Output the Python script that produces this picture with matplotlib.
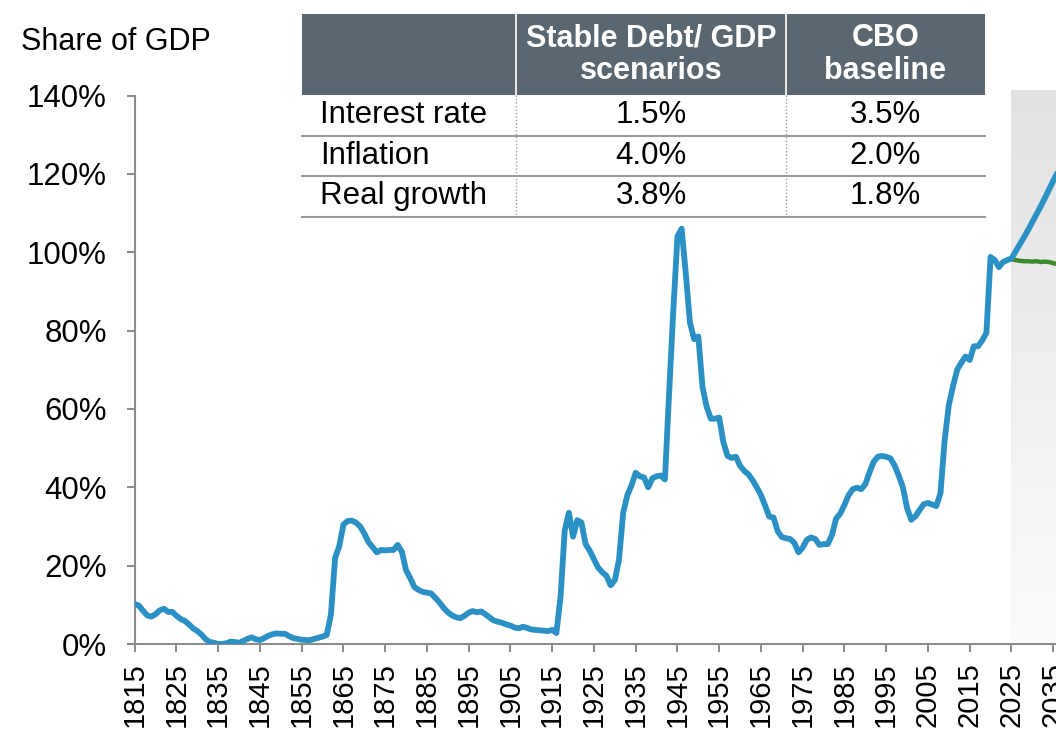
import numpy as np
import matplotlib
matplotlib.use("Agg")
import matplotlib.pyplot as plt
from matplotlib.patches import Rectangle
from matplotlib.lines import Line2D
from matplotlib.colors import LinearSegmentedColormap

plt.rcParams['font.family'] = ['Liberation Sans', 'DejaVu Sans']

# ---------------- data ----------------
hist_start = 1815
hist_debt = [
    10.2, 9.8, 8.5, 7.3, 7.0, 7.6, 8.6, 9.0, 8.2, 8.2,          # 1815-1824
    7.2, 6.4, 5.9, 5.0, 4.0, 3.3, 2.4, 1.2, 0.5, 0.3,           # 1825-1834
    0.0, 0.0, 0.2, 0.6, 0.5, 0.3, 0.8, 1.3, 1.7, 1.2,           # 1835-1844
    1.0, 1.5, 2.1, 2.5, 2.7, 2.6, 2.6, 2.0, 1.5, 1.3,           # 1845-1854
    1.1, 1.0, 1.0, 1.3, 1.6, 1.9, 2.3, 7.5, 22.0, 25.0,         # 1855-1864
    30.5, 31.4, 31.5, 31.0, 30.0, 28.2, 26.0, 24.7, 23.4, 24.0, # 1865-1874
    23.9, 24.0, 24.0, 25.3, 23.5, 18.8, 16.8, 14.5, 13.8, 13.3, # 1875-1884
    13.1, 12.9, 11.8, 10.6, 9.2, 8.1, 7.3, 6.8, 6.6, 7.2,       # 1885-1894
    8.0, 8.4, 8.1, 8.3, 7.6, 6.8, 6.0, 5.7, 5.4, 5.0,           # 1895-1904
    4.7, 4.2, 4.0, 4.4, 4.1, 3.7, 3.6, 3.5, 3.4, 3.3,           # 1905-1914
    3.6, 2.8, 12.0, 29.0, 33.5, 27.4, 31.6, 31.0, 25.5, 23.8,   # 1915-1924
    21.6, 19.5, 18.3, 17.4, 15.0, 16.3, 21.5, 33.5, 38.0, 40.5, # 1925-1934
    43.7, 42.8, 42.5, 40.0, 42.3, 42.8, 43.0, 42.0, 64.0, 85.0, # 1935-1944
    104.0, 106.0, 94.5, 82.0, 77.8, 78.5, 65.6, 60.5, 57.5, 57.5, # 1945-1954
    57.8, 51.5, 48.0, 47.5, 47.8, 45.5, 44.2, 43.3, 41.8, 40.0, # 1955-1964
    38.0, 35.3, 32.5, 32.3, 28.8, 27.3, 27.0, 26.8, 25.8, 23.4, # 1965-1974
    24.6, 26.6, 27.2, 26.8, 25.3, 25.5, 25.5, 27.8, 32.0, 33.3, # 1975-1984
    35.5, 38.0, 39.5, 39.9, 39.5, 40.8, 43.8, 46.5, 47.8, 48.0, # 1985-1994
    47.8, 47.4, 45.6, 43.0, 40.0, 34.7, 31.7, 32.6, 34.2, 35.7, # 1995-2004
    36.0, 35.6, 35.2, 38.5, 52.0, 61.0, 65.8, 70.0, 71.8, 73.4, # 2005-2014
    72.5, 76.0, 76.0, 77.5, 79.4, 98.8, 98.0, 96.2, 97.5, 98.0, # 2015-2024
]
proj_start = 2025
cbo_baseline = [98.4, 100.2, 102.0, 103.8, 105.7, 107.7, 109.7, 111.7,
                113.8, 116.0, 118.2, 120.3]
stable_scenario = [98.2, 98.0, 97.8, 97.7, 97.7, 97.6, 97.7, 97.5,
                   97.6, 97.5, 97.2, 97.0]

table_cols = ["", "Stable Debt/ GDP\nscenarios", "CBO\nbaseline"]
table_rows = ["Interest rate", "Inflation", "Real growth"]
table_stable = ["1.5%", "4.0%", "3.8%"]
table_cbo = ["3.5%", "2.0%", "1.8%"]

y_ticks = [0, 20, 40, 60, 80, 100, 120, 140]
x_tick_years = list(range(1815, 2056, 10))

# ---------------- figure ----------------
W, H = 1056, 731
fig = plt.figure(figsize=(W / 100, H / 100), dpi=100)

x0, x1 = 1815, 2055
px_per_year = 4.175
ax_left, ax_bottom, ax_top = 134.7, 644.0, 95.5
ax = fig.add_axes([ax_left / W, (H - ax_bottom) / H,
                   (x1 - x0) * px_per_year / W, (ax_bottom - ax_top) / H])

hist_years = np.arange(hist_start, hist_start + len(hist_debt))
proj_years = np.arange(proj_start, proj_start + len(cbo_baseline))

blue = "#2b91c5"
green = "#3b8a2c"

# shaded projection area (gradient)
grad = np.linspace(0, 1, 256).reshape(-1, 1)
cmap = LinearSegmentedColormap.from_list("g", ["#e2e2e2", "#fbfbfb"])
ax.imshow(grad, extent=[proj_start, x1 + 5, 0, 141.3], aspect="auto",
          cmap=cmap, origin="upper", zorder=0, clip_on=False)

# lines
cbo_x = np.concatenate([hist_years, proj_years])
cbo_y = np.concatenate([hist_debt, cbo_baseline])
ax.plot(cbo_x, cbo_y, color=blue, lw=4.2, solid_joinstyle="round",
        solid_capstyle="round", zorder=3)
ax.plot(proj_years, stable_scenario, color=green, lw=3.2,
        solid_capstyle="round", zorder=2)

ax.set_xlim(x0, x1)
ax.set_ylim(0, 140)

for s in ["top", "right"]:
    ax.spines[s].set_visible(False)
for s in ["left", "bottom"]:
    ax.spines[s].set_color("#8c8c8c")
    ax.spines[s].set_linewidth(1.5)

ax.set_yticks(y_ticks)
ax.set_yticklabels([f"{v}%" for v in y_ticks])
ax.set_xticks(x_tick_years)
ax.set_xticklabels([str(y) for y in x_tick_years], rotation=90)
ax.tick_params(axis="y", length=6, width=1.5, color="#8c8c8c",
               labelsize=22.5, pad=14, direction="out")
ax.tick_params(axis="x", length=6, width=1.5, color="#8c8c8c",
               labelsize=21, pad=7, direction="out")

fig.text(21 / W, 1 - 42 / H, "Share of GDP", fontsize=22,
         ha="left", va="center")

# ---------------- table ----------------
def fx(px):
    return px / W


def fy(py):
    return 1 - py / H


tl, tr = 302, 985
c1, c2 = 516, 786
head_top, head_bot = 13.5, 95
row_h = 40.5
header_color = "#5b6770"

fig.add_artist(Rectangle((fx(tl), fy(head_bot)), fx(tr) - fx(tl),
                         fy(head_top) - fy(head_bot),
                         transform=fig.transFigure, facecolor=header_color,
                         edgecolor="none", zorder=5))
for cx in (c1, c2):
    fig.add_artist(Line2D([fx(cx), fx(cx)], [fy(head_top), fy(head_bot)],
                          transform=fig.transFigure, color="white", lw=1.2,
                          zorder=6))

col_centers = [(c1 + c2) / 2, (c2 + tr) / 2]
for cx, label in zip(col_centers, table_cols[1:]):
    fig.text(fx(cx), fy((head_top + head_bot) / 2 + 0.5), label, color="white",
             fontsize=22, fontweight="bold", ha="center", va="center",
             linespacing=1.15, zorder=7)

for i, (rname, v1, v2) in enumerate(zip(table_rows, table_stable, table_cbo)):
    top = head_bot + i * row_h
    bot = top + row_h
    cy = (top + bot) / 2
    fig.text(fx(320), fy(cy), rname, fontsize=22.5, ha="left", va="center",
             zorder=7)
    fig.text(fx(col_centers[0]), fy(cy), v1, fontsize=22.5, ha="center",
             va="center", zorder=7)
    fig.text(fx(col_centers[1]), fy(cy), v2, fontsize=22.5, ha="center",
             va="center", zorder=7)
    fig.add_artist(Line2D([fx(tl), fx(tr)], [fy(bot), fy(bot)],
                          transform=fig.transFigure, color="#9a9a9a", lw=1.5,
                          zorder=6))

for cx in (c1, c2):
    fig.add_artist(Line2D([fx(cx), fx(cx)],
                          [fy(head_bot), fy(head_bot + 3 * row_h)],
                          transform=fig.transFigure, color="#9a9a9a", lw=1.0,
                          linestyle=(0, (1, 1.5)), zorder=6))

fig.savefig("out.png", dpi=100)
